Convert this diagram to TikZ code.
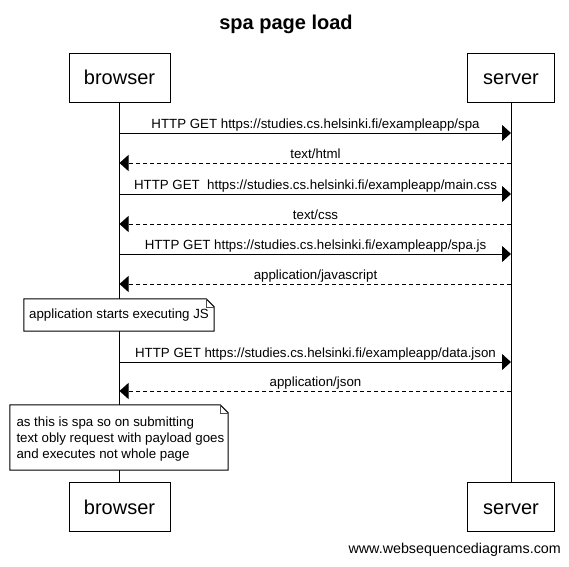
\documentclass[tikz,border=0pt]{standalone}
\usepackage{fontspec}
\setmainfont{Liberation Sans}
\usetikzlibrary{arrows.meta}
\begin{document}
\begin{tikzpicture}[x=1pt,y=-1pt,
  actor/.style={draw,line width=1pt,minimum height=49pt,inner sep=0pt,text height=14.5pt,text depth=0pt,font=\fontsize{20}{24}\selectfont},
  lifeline/.style={line width=1pt},
  msg/.style={line width=1pt,-{Triangle[length=9pt,width=16pt]}},
  reply/.style={msg,dash pattern=on 4pt off 3pt},
  lbl/.style={anchor=base,inner sep=0pt,font=\fontsize{13.3}{16}\selectfont},
  notetext/.style={inner sep=0pt,font=\fontsize{13.3}{16}\selectfont},
  noteframe/.style={line width=1pt,fill=white},
  fold/.style={line width=0.6pt,draw=black!70}
]
\useasboundingbox (0,0) rectangle (569,566);

% title
\node[anchor=base,inner sep=0pt,font=\fontsize{20}{24}\selectfont\bfseries] (title) at (286,29) {spa page load};

% participants
\node[actor,minimum width=101pt] (bt) at (119.5,77.5) {browser};
\node[actor,minimum width=87pt] (st) at (511,77.5) {server};
\node[actor,minimum width=101pt] (bb) at (119.5,507) {browser};
\node[actor,minimum width=87pt] (sb) at (511,507) {server};

% lifelines
\draw[lifeline] (bt.south) -- (bb.north);
\draw[lifeline] (st.south) -- (sb.north);

% message anchor points
\foreach \n/\y in {1/133,2/163,3/194,4/224,5/254,6/284,7/362,8/391}{
  \coordinate (b\n) at (119.5,\y);
  \coordinate (s\n) at (511,\y);
}

\draw[msg] (b1) -- (s1);
\node[lbl] (l1) at (315.5,128) {HTTP GET https://studies.cs.helsinki.fi/exampleapp/spa};
\draw[reply] (s2) -- (b2);
\node[lbl] (l2) at (315.5,158) {text/html};
\draw[msg] (b3) -- (s3);
\node[lbl] (l3) at (315.5,189) {HTTP GET \ https://studies.cs.helsinki.fi/exampleapp/main.css};
\draw[reply] (s4) -- (b4);
\node[lbl] (l4) at (315.5,219) {text/css};
\draw[msg] (b5) -- (s5);
\node[lbl] (l5) at (315.5,249) {HTTP GET https://studies.cs.helsinki.fi/exampleapp/spa.js};
\draw[reply] (s6) -- (b6);
\node[lbl] (l6) at (315.5,279) {application/javascript};

% note 1
\node[notetext,minimum width=190pt,minimum height=32pt] (n1) at (119,315) {};
\draw[noteframe] (n1.south west) -- (n1.north west) -- ([xshift=-8pt]n1.north east)
  -- ([yshift=-8pt]n1.north east) -- (n1.south east) -- cycle;
\draw[fold] ([xshift=-8pt]n1.north east) |- ([yshift=-8pt]n1.north east);
\node[notetext] (n1t) at (n1.center) {application starts executing JS};

\draw[msg] (b7) -- (s7);
\node[lbl] (l7) at (315.5,357) {HTTP GET https://studies.cs.helsinki.fi/exampleapp/data.json};
\draw[reply] (s8) -- (b8);
\node[lbl] (l8) at (315.5,386) {application/json};

% note 2
\node[notetext,minimum width=218pt,minimum height=65pt] (n2) at (119,437.5) {};
\draw[noteframe] (n2.south west) -- (n2.north west) -- ([xshift=-8pt]n2.north east)
  -- ([yshift=-8pt]n2.north east) -- (n2.south east) -- cycle;
\draw[fold] ([xshift=-8pt]n2.north east) |- ([yshift=-8pt]n2.north east);
\node[notetext,align=left,anchor=west] (n2t) at ([xshift=6.5pt,yshift=-2pt]n2.west) {as this is spa so on submitting\\text obly request with payload goes\\and executes not whole page};

% footer
\node[anchor=base east,inner sep=0pt,font=\fontsize{14.3}{17}\selectfont] (foot) at (561,553) {www.websequencediagrams.com};
\end{tikzpicture}
\end{document}
